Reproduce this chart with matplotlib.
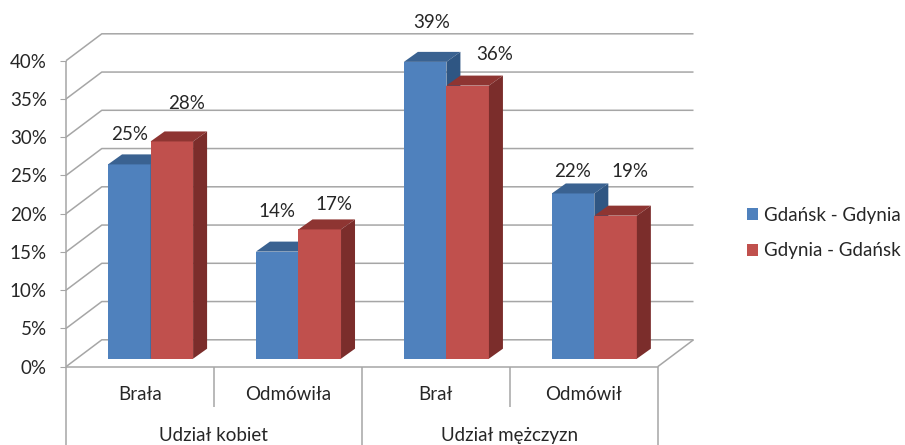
import matplotlib
matplotlib.use("Agg")
import matplotlib.pyplot as plt
from matplotlib.patches import Polygon

# Survey shares per category
categories = ["Brała", "Odmówiła", "Brał", "Odmówił"]
groups = ["Udział kobiet", "Udział mężczyzn"]
series_names = ["Gdańsk - Gdynia", "Gdynia - Gdańsk"]
gdansk_gdynia = [25.4, 14.0, 38.8, 21.6]
gdynia_gdansk = [28.4, 16.9, 35.7, 18.7]
y_ticks = [0, 5, 10, 15, 20, 25, 30, 35, 40]

# Figure layout, in pixels
W, H = 905, 445
LEFT, RIGHT, BASE, TOP = 66.0, 657.7, 366.7, 60.7
WALL_DX, WALL_DY = 35.8, 26.9      # oblique shift of the back wall
BAR_DX, BAR_DY = 10.6, 8.0         # shift of the bars' front faces
DEPTH_DX, DEPTH_DY = 14.0, 10.0    # depth of each bar
BAR_W = 0.2875                     # bar width in category units

# Label offsets from the centre of each bar's top edge, in pixels (right, up)
blue_nudge = [(0, 30), (0, 40), (7, 39), (-1, 22)]
red_nudge = [(15, 38), (14, 25), (27, 31), (14, 44)]

GRID = "#A6A6A6"
TEXT = "#262626"
FONT = "Lato"
FS = 13.5

fig = plt.figure(figsize=(W / 100, H / 100), dpi=100, facecolor="white")
ax = fig.add_axes([LEFT / W, 1 - BASE / H, (RIGHT - LEFT) / W, (BASE - TOP) / H])
ax.set_xlim(0, len(categories))
ax.set_ylim(0, 40)
ax.patch.set_visible(False)

px_x = len(categories) / (RIGHT - LEFT)
px_y = 40 / (BASE - TOP)


def shift(x, y, dx=0.0, dy=0.0):
    """Move a data point by an offset given in pixels."""
    return x + dx * px_x, y + dy * px_y


def rule(xs, ys, **kw):
    ax.plot(xs, ys, color=GRID, lw=1.1, clip_on=False, solid_capstyle="butt", **kw)


# Walls and floor
for v in y_ticks:
    bx0, by = shift(0, v, WALL_DX, WALL_DY)
    bx1, _ = shift(len(categories), v, WALL_DX, WALL_DY)
    rule([0, bx0, bx1], [v, by, by], zorder=1)
rule([0, len(categories)], [0, 0], zorder=1)
rule([len(categories), shift(len(categories), 0, WALL_DX)[0]], [0, shift(0, 0, 0, WALL_DY)[1]], zorder=1)

# Axis rules running down through the category rows
bottom = -(H - BASE) * px_y
short = -40.5 * px_y
rule([0, 0], [40, bottom], zorder=1)
rule([2, 2], [0, bottom], zorder=1)
rule([4, 4], [0, bottom], zorder=1)
rule([1, 1], [0, short], zorder=1)
rule([3, 3], [0, short], zorder=1)

ax.set_yticks(y_ticks)
ax.set_yticklabels([f"{v}%" for v in y_ticks], fontfamily=FONT, fontsize=FS, color=TEXT)
ax.tick_params(axis="y", length=4.3, width=0.8, color=GRID, pad=9.5)
ax.set_xticks([])
for s in ax.spines.values():
    s.set_visible(False)


def draw_bars(values, offset, front, top_c, side_c, nudges, name):
    xs = [shift(i + 0.5 + offset, 0, BAR_DX)[0] for i in range(len(values))]
    y0 = BAR_DY * px_y
    bars = ax.bar(xs, values, BAR_W, bottom=y0, color=front, zorder=3, clip_on=False, label=name)
    for x, v, (nx, ny) in zip(xs, values, nudges):
        l, r = x - BAR_W / 2, x + BAR_W / 2
        t = y0 + v
        dx, dy = DEPTH_DX * px_x, DEPTH_DY * px_y
        ax.add_patch(Polygon([(l, t), (r, t), (r + dx, t + dy), (l + dx, t + dy)],
                             fc=top_c, ec="none", zorder=3, clip_on=False))
        ax.add_patch(Polygon([(r, y0), (r + dx, y0 + dy), (r + dx, t + dy), (r, t)],
                             fc=side_c, ec="none", zorder=3, clip_on=False))
        lx, ly = shift(x, t, nx, ny)
        ax.text(lx, ly, f"{v:.0f}%", ha="center", va="center", fontfamily=FONT,
                fontsize=FS, color=TEXT, zorder=5, clip_on=False)
    return bars


blue = draw_bars(gdansk_gdynia, -BAR_W / 2, "#4F81BD", "#3A6291", "#2F5683", blue_nudge, series_names[0])
red = draw_bars(gdynia_gdansk, BAR_W / 2, "#C0504D", "#8E3532", "#7B2D2B", red_nudge, series_names[1])

# Two-level category labels
for i, c in enumerate(categories):
    ax.text(i + 0.5, shift(0, 0, 0, -28)[1], c, ha="center", va="center",
            fontfamily=FONT, fontsize=FS, color=TEXT, clip_on=False)
for i, g in enumerate(groups):
    ax.text(2 * i + 1, shift(0, 0, 0, -69)[1], g, ha="center", va="center",
            fontfamily=FONT, fontsize=FS, color=TEXT, clip_on=False)

ax.legend(handles=[blue, red], labels=series_names, frameon=False,
          loc="center left", bbox_to_anchor=(747 / W, 1 - 233 / H),
          bbox_transform=fig.transFigure, handlelength=0.6, handleheight=0.6,
          handletextpad=0.32, labelspacing=1.0, borderpad=0, borderaxespad=0,
          prop={"family": FONT, "size": FS}, labelcolor=TEXT)

fig.savefig("out.png", dpi=100)
